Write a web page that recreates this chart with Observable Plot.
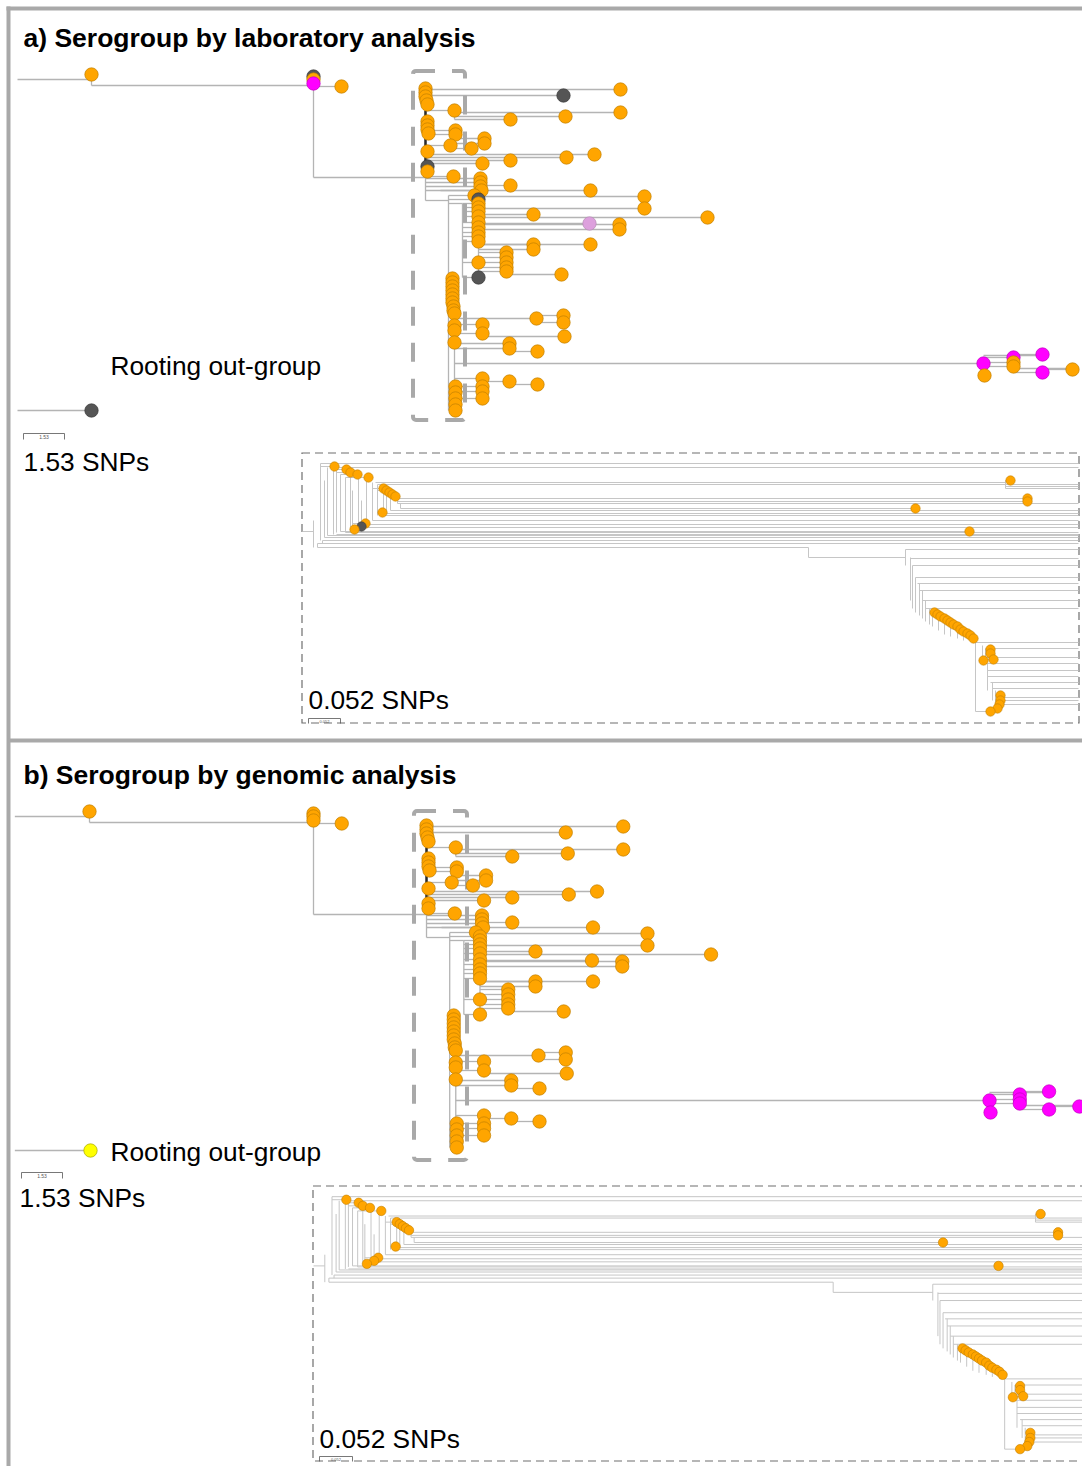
<!DOCTYPE html>
<html><head><meta charset="utf-8">
<script src="https://cdn.jsdelivr.net/npm/d3@7"></script>
<script src="https://cdn.jsdelivr.net/npm/@observablehq/plot@0.6"></script>
<style>html,body{margin:0;padding:0;background:#fff;overflow:hidden}#chart svg{display:block}</style>
</head><body><div id="chart"></div>
<script>
// ---------- DATA (tree coordinates: dist = branch position, row = leaf order) ----------
// Main tree tips: [dist, row, serogroup, parentDist]
const mainTips = [
 [91,74,"O",91],
 [313,76,"D",313],[313,79,"O",313],[313,83,"M",313],[341,86,"O",313],
 [620,89,"O",425],[563,95,"D",425],
 [425,88,"O",425],[425,92,"O",425],[425,96,"O",425],[426,100,"O",425],[427,104,"O",425],
 [620,112,"O",454],[565,116,"O",454],[510,119,"O",454],[454,110,"O",425],
 [427,121,"O",425],[427,125,"O",425],[427,129,"O",425],[428,133,"O",425],
 [455,130,"O",425],[455,134,"O",425],
 [484,138,"O",450],[484,143,"O",450],[450,145,"O",425],[471,148,"O",450],
 [427,151,"O",425],
 [594,154,"O",427],[566,157,"O",427],
 [510,160,"O",427],[482,163,"O",427],
 [427,166,"D",425],[427,171,"O",425],
 [453,176,"O",425],
 [480,178,"O",425],[480,182,"O",425],[480,186,"O",425],[481,190,"O",425],
 [510,185,"O",480],[590,190,"O",440],
 [644,196,"O",478],[474,195,"O",448],[478,199,"D",448],
 [644,208,"O",478],[533,214,"O",478],[707,217,"O",478],[589,223,"P",478],[619,224,"O",478],[619,229,"O",478],
 [478,203,"O",462],[478,207,"O",462],[478,211,"O",462],[478,216,"O",462],[478,222,"O",462],[478,227,"O",462],
 [478,232,"O",462],[478,236,"O",462],[478,241,"O",462],
 [533,244,"O",478],[590,244,"O",478],[533,249,"O",478],
 [506,252,"O",478],[506,257,"O",478],[506,262,"O",478],[506,267,"O",478],[506,271,"O",478],
 [478,262,"O",462],[561,274,"O",506],[478,277,"D",462],
 [452,278,"O",449],[452,282,"O",449],[452,286,"O",449],[452,290,"O",449],[452,294,"O",449],
 [452,298,"O",449],[452,302,"O",449],[453,306,"O",449],[453,310,"O",449],[454,313,"O",449],
 [536,318,"O",454],[563,315,"O",536],[563,322,"O",536],
 [482,324,"O",454],[482,333,"O",454],[454,325,"O",454],[454,330,"O",454],
 [564,336,"O",482],[454,342,"O",454],
 [509,343,"O",454],[509,348,"O",454],[537,351,"O",509],
 [983,363,"M",454],[984,375,"O",983],[1013,357,"M",983],[1013,362,"O",983],[1013,366,"O",983],
 [1042,354,"M",1013],[1042,372,"M",1013],[1072,369,"O",1042],
 [537,384,"O",509],[509,381,"O",482],[482,378,"O",454],
 [482,386,"O",454],[482,391,"O",454],[482,398,"O",454],
 [455,386,"O",454],[455,392,"O",454],[455,398,"O",454],[455,404,"O",454],[455,410,"O",454]
];
// Extra horizontal branches: [row, fromDist, toDist]
const mainBranches = [[79,17,91],[85,91,313],[177,313,425],[200,425,448],[203,448,462],[355,983,1042],[368,1013,1072]];
// Vertical stems: [dist, fromRow, toRow]
const mainStems = [
 [91,74,85],[313,76,177],[425,88,200],[454,110,119],[450,138,148],[427,154,163],
 [448,195,410],[462,203,277],[478,196,271],[506,262,274],[536,315,322],
 [454,313,410],[482,324,336],[509,343,351],[482,378,384],[509,381,384],
 [983,357,375],[1013,354,372],[1042,369,372]
];
const darkStems = [[425,110,162]];
// Rooting out-group per panel: [dist, row, serogroup]
const outgroups = [[91,410,"D"],[90,1150,"Y"]];

// Inset (zoomed clade) tips: [dist, row, serogroup, parentDist]
const insetTips = [
 [334,466,"O",320],[346,469,"O",333],[350,472,"O",336],[357,474,"O",340],[368,477,"O",345],
 [383,488,"O",372],[386,490,"O",377],[389,492,"O",383],[392,494,"O",386],[395,496,"O",390],
 [382,512,"O",377],[365,523,"O",352],[361,526,"D",352],[354,529,"O",350],
 [1010,480,"O",1005],[1027,498,"O",397],[1027,501,"O",397],[915,508,"O",400],[969,531,"O",340],
 [934,612,"O",929],[937,614,"O",932],[940,616,"O",935],[944,618,"O",938],[947,620,"O",941],
 [950,622,"O",944],[953,624,"O",947],[957,626,"O",950],[960,629,"O",953],[963,631,"O",957],
 [967,633,"O",960],[970,635,"O",963],[973,638,"O",967],
 [990,649,"O",985],[990,653,"O",985],[993,659,"O",985],[983,660,"O",982],
 [1000,695,"O",995],[1000,700,"O",995],[999,704,"O",995],[997,708,"O",995],[990,711,"O",975]
];
const insetBranches = [
 [531,302,313],
 [463,320,1078],[467,333,1078],[482,375,1005],[484,377,1078],[486,1005,1078],[488,1005,1078],
 [503,397,1078],[510,390,1078],[513,386,1078],[515,383,1078],[520,372,1078],
 [524,366,1078],[527,358,1078],[532,345,1078],[534,336,1078],[535,327,1078],[537,324,1078],
 [540,322,1078],[543,317,1078],
 [547,317,808],[557,808,905],[549,905,1078],[558,910,1078],[565,912,1078],[577,915,1078],
 [583,917,1078],[590,919,1078],[600,922,1078],[608,925,1078],
 [642,975,1078],[648,985,1078],[657,985,1078],[663,982,1078],[670,987,1078],[676,987,1078],
 [682,990,1078],[688,992,1078],[697,1000,1078],[700,1002,1078],[704,1003,1078]
];
const insetStems = [
 [313,520,547],[317,543,547],[320,463,540],[322,540,543],[324,480,537],[327,467,535],[333,467,534],
 [336,470,532],[340,474,531],[345,477,532],[350,470,527],[352,490,527],[358,474,527],[361,500,526],
 [366,477,524],[372,482,520],[377,484,515],[383,488,515],[386,490,513],[390,492,510],[397,496,503],
 [400,503,508],[1005,480,488],
 [808,547,557],[905,549,565],[910,557,600],[912,565,608],[915,577,612],[919,583,615],[922,590,618],
 [925,600,621],[929,608,624],[932,612,626],[938,614,630],[944,618,634],[950,622,636],[957,626,638],[963,629,640],
 [975,638,711],[982,645,663],[985,648,660],[987,663,690],[992,682,700],[995,690,711]
];

// Text
const titles = ["a) Serogroup by laboratory analysis", "b) Serogroup by genomic analysis"];
const rootLabel = "Rooting out-group";
const scaleMain = "1.53 SNPs", scaleMainTiny = "1.53";
const scaleInset = "0.052 SNPs", scaleInsetTiny = "0.052";

// ---------- LAYOUT ----------
const panels = [
 {id:"a", mx:x=>x, my:y=>y, ix:x=>x, iy:y=>y,
  title:[23,46], root:[110,374], sLab:[23,470], sBar:[23,64,433], iLab:[308,708], iBar:[308,340,718],
  clade:[413,71,465,420], inset:[302,453,1079,723]},
 {id:"b", mx:x=>x+(x-313)*0.009, my:y=>y+737, ix:x=>313+(x-302)*1.027, iy:y=>1186+(y-453)*1.018,
  title:[23,783], root:[110,1160], sLab:[19,1206], sBar:[21,62,1172], iLab:[319,1447], iBar:[319,352,1456],
  clade:[414,811,467,1160], inset:[313,1186,1110,1461]}
];
const fill = {O:"#FFA500", D:"#555555", M:"#FF00FF", P:"#DDA0DD", Y:"#FFFF00"};
const edge = {O:"#c27f00", D:"#3a3a3a", M:"#c000c0", P:"#b58bb5", Y:"#a8a800"};

const segs = [], darkSegs = [], isegs = [], dots = [], idots = [], rects = [], irects = [], texts = [], tiny = [], bars = [];
panels.forEach((P, pi) => {
  const gMain = (d, g) => P.id === "a" ? g : (d >= 980 ? "M" : "O");
  const gIns = g => P.id === "a" ? g : "O";
  for (const [d, r, g, p] of mainTips) {
    if (p !== d) segs.push({x1:P.mx(p), x2:P.mx(d), y1:P.my(r), y2:P.my(r)});
    dots.push({x:P.mx(d), y:P.my(r), g:gMain(d, g)});
  }
  for (const [r, a, b] of mainBranches) segs.push({x1:P.mx(a), x2:P.mx(b), y1:P.my(r), y2:P.my(r)});
  for (const [d, a, b] of mainStems) segs.push({x1:P.mx(d), x2:P.mx(d), y1:P.my(a), y2:P.my(b)});
  for (const [d, a, b] of darkStems) darkSegs.push({x1:P.mx(d), x2:P.mx(d), y1:P.my(a), y2:P.my(b)});
  const [od, orow, og] = outgroups[pi];
  segs.push({x1:P.mx(17), x2:od, y1:orow, y2:orow});
  dots.push({x:od, y:orow, g:og});
  for (const [r, a, b] of insetBranches) isegs.push({x1:P.ix(a), x2:Math.min(P.ix(b), P.inset[2]), y1:P.iy(r), y2:P.iy(r)});
  for (const [d, a, b] of insetStems) isegs.push({x1:P.ix(d), x2:P.ix(d), y1:P.iy(a), y2:P.iy(b)});
  for (const [d, r, g, p] of insetTips) {
    if (p !== d) isegs.push({x1:P.ix(p), x2:P.ix(d), y1:P.iy(r), y2:P.iy(r)});
    idots.push({x:P.ix(d), y:P.iy(r), g:gIns(g)});
  }
  rects.push({x1:P.clade[0], y1:P.clade[1], x2:P.clade[2], y2:P.clade[3]});
  irects.push({x1:P.inset[0], y1:P.inset[1], x2:P.inset[2], y2:P.inset[3]});
  texts.push({x:P.title[0], y:P.title[1], t:titles[pi], w:"bold"});
  texts.push({x:P.root[0], y:P.root[1], t:rootLabel, w:"normal"});
  texts.push({x:P.sLab[0], y:P.sLab[1], t:scaleMain, w:"normal"});
  texts.push({x:P.iLab[0], y:P.iLab[1], t:scaleInset, w:"normal"});
  const [sa, sb, sy] = P.sBar, [ia, ib, iy] = P.iBar;
  bars.push({x1:sa, x2:sb, y1:sy, y2:sy},{x1:sa, x2:sa, y1:sy, y2:sy+6},{x1:sb, x2:sb, y1:sy, y2:sy+6});
  bars.push({x1:ia, x2:ib, y1:iy, y2:iy},{x1:ia, x2:ia, y1:iy, y2:iy+5},{x1:ib, x2:ib, y1:iy, y2:iy+5});
  tiny.push({x:(sa+sb)/2, y:sy+5, t:scaleMainTiny, s:5});
  tiny.push({x:(ia+ib)/2, y:iy+4.5, t:scaleInsetTiny, s:4});
});
const frame = [
 {x1:6, x2:1082, y1:8, y2:8}, {x1:8, x2:8, y1:6, y2:1466}, {x1:8, x2:1082, y1:740, y2:740}
];
const font = "Liberation Sans, Arial, Helvetica, sans-serif";

const chart = Plot.plot({
  width: 1082, height: 1466, margin: 0,
  x: {domain:[0,1082], range:[0,1082], axis:null},
  y: {domain:[0,1466], range:[0,1466], axis:null},
  style: {fontFamily: font, background:"#fff"},
  marks: [
    Plot.link(frame, {x1:"x1", y1:"y1", x2:"x2", y2:"y2", stroke:"#a9a9a9", strokeWidth:4}),
    Plot.link(segs, {x1:"x1", y1:"y1", x2:"x2", y2:"y2", stroke:"#b4b4b4", strokeWidth:1.3}),
    Plot.link(darkSegs, {x1:"x1", y1:"y1", x2:"x2", y2:"y2", stroke:"#2a2a2a", strokeWidth:2.5}),
    Plot.rect(rects, {x1:"x1", y1:"y1", x2:"x2", y2:"y2", fill:"none", stroke:"#a9a9a9", strokeWidth:4, strokeDasharray:"19,17", rx:3}),
    Plot.dot(dots, {x:"x", y:"y", r:6.7, fill:d=>fill[d.g], stroke:d=>edge[d.g], strokeWidth:0.7}),
    Plot.rect(irects, {x1:"x1", y1:"y1", x2:"x2", y2:"y2", fill:"none", stroke:"#6e6e6e", strokeWidth:1.2, strokeDasharray:"8,5"}),
    Plot.link(isegs, {x1:"x1", y1:"y1", x2:"x2", y2:"y2", stroke:"#c6c6c6", strokeWidth:1}),
    Plot.dot(idots, {x:"x", y:"y", r:4.7, fill:d=>fill[d.g], stroke:d=>edge[d.g], strokeWidth:0.6}),
    Plot.link(bars, {x1:"x1", y1:"y1", x2:"x2", y2:"y2", stroke:"#555", strokeWidth:0.8}),
    Plot.text(tiny, {x:"x", y:"y", text:"t", fontSize:d=>d.s, fill:"#555", textAnchor:"middle", lineAnchor:"bottom"}),
    Plot.text(texts.filter(d=>d.w==="bold"), {x:"x", y:"y", text:"t", fontSize:26.5, fontWeight:"bold", fill:"#000", textAnchor:"start", lineAnchor:"bottom"}),
    Plot.text(texts.filter(d=>d.w!=="bold"), {x:"x", y:"y", text:"t", fontSize:26.3, fill:"#000", textAnchor:"start", lineAnchor:"bottom"})
  ]
});
document.getElementById("chart").appendChild(chart);
</script></body></html>
